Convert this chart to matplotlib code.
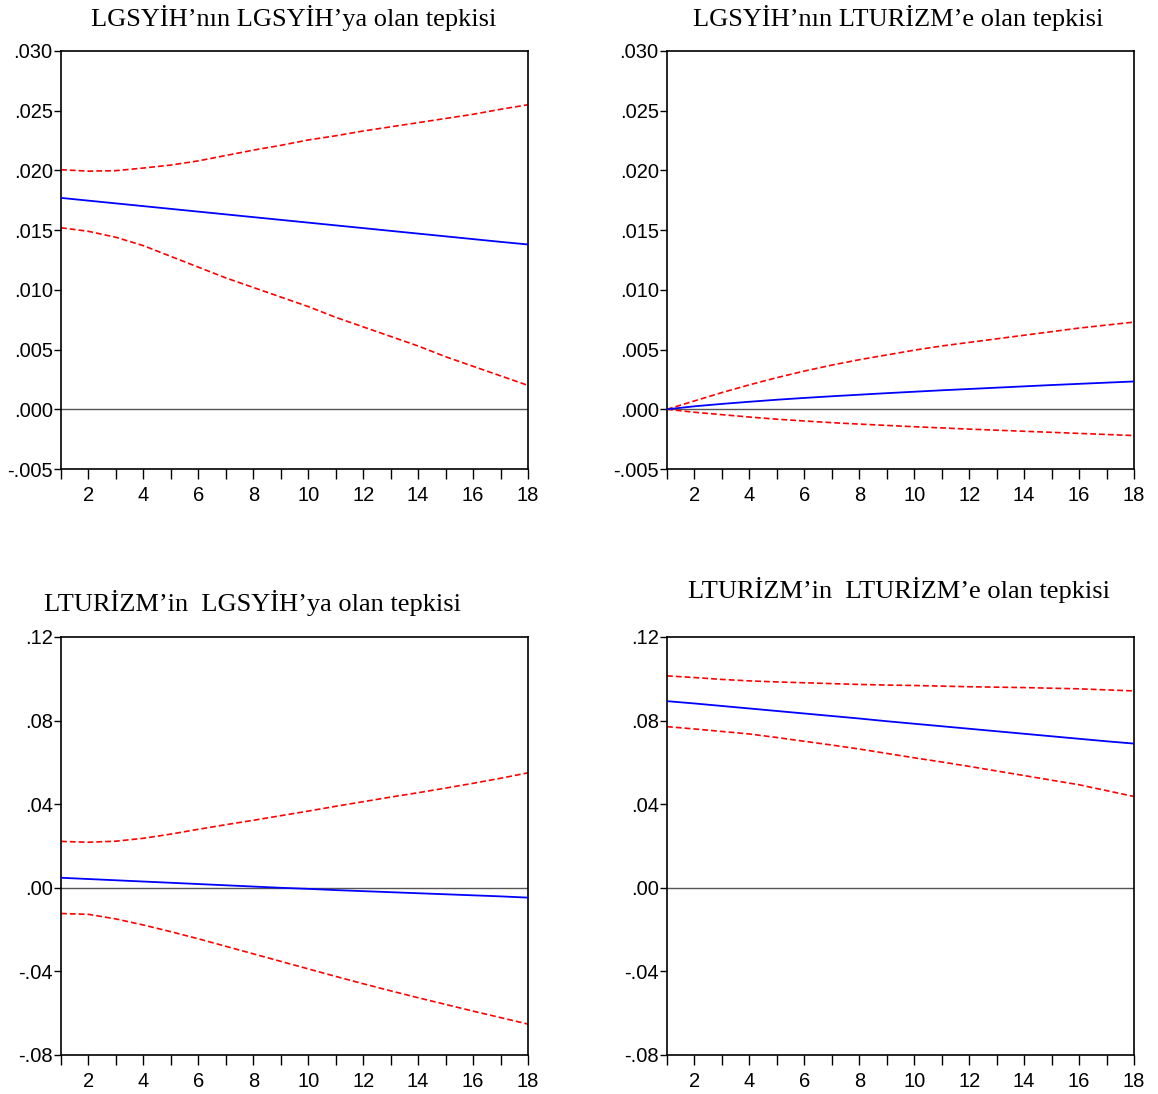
import matplotlib
matplotlib.use("Agg")
import matplotlib.pyplot as plt
from matplotlib import font_manager

periods = list(range(1, 19))

# LGSYIH -> LGSYIH
p1_resp = [0.0177, 0.01747, 0.01724, 0.01701, 0.01678, 0.01655, 0.01632, 0.01609, 0.01586,
           0.01563, 0.0154, 0.01517, 0.01494, 0.01471, 0.01448, 0.01425, 0.01402, 0.0138]
p1_upper = [0.02006, 0.01994, 0.01998, 0.0202, 0.02045, 0.0208, 0.02125, 0.0217, 0.0221,
            0.02255, 0.0229, 0.0233, 0.02365, 0.0240, 0.02435, 0.0247, 0.02512, 0.0255]
p1_lower = [0.0152, 0.0149, 0.0144, 0.0137, 0.0128, 0.0119, 0.0110, 0.0102, 0.0094,
            0.0086, 0.0077, 0.0069, 0.0061, 0.0053, 0.0044, 0.0036, 0.0028, 0.0020]

# LGSYIH -> LTURIZM
p2_resp = [0.0, 0.00025, 0.00045, 0.00063, 0.0008, 0.00095, 0.00109, 0.00122, 0.00135,
           0.00147, 0.00159, 0.0017, 0.00181, 0.00192, 0.00203, 0.00213, 0.00223, 0.00233]
p2_upper = [0.0, 0.0007, 0.0014, 0.00205, 0.00265, 0.0032, 0.0037, 0.00415, 0.00455,
            0.00495, 0.0053, 0.0056, 0.0059, 0.0062, 0.0065, 0.0068, 0.00705, 0.0073]
p2_lower = [0.0, -0.00025, -0.00045, -0.00065, -0.00083, -0.00098, -0.00112, -0.00124, -0.00135,
            -0.00146, -0.00156, -0.00166, -0.00175, -0.00184, -0.00193, -0.00202, -0.00211, -0.0022]

# LTURIZM -> LGSYIH
p3_resp = [0.0048, 0.0042, 0.0036, 0.0030, 0.0024, 0.0018, 0.0012, 0.0006, 0.0,
           -0.0005, -0.0011, -0.0016, -0.0021, -0.0026, -0.0031, -0.0036, -0.0041, -0.0047]
p3_upper = [0.0222, 0.0218, 0.0223, 0.0237, 0.0257, 0.0280, 0.0302, 0.0323, 0.0345,
            0.0367, 0.0390, 0.0412, 0.0434, 0.0455, 0.0477, 0.0500, 0.0524, 0.0550]
p3_lower = [-0.0123, -0.0127, -0.0149, -0.0178, -0.0210, -0.0244, -0.0280, -0.0316, -0.0352,
            -0.0388, -0.0424, -0.0459, -0.0493, -0.0526, -0.0558, -0.0590, -0.0621, -0.0652]

# LTURIZM -> LTURIZM
p4_resp = [0.0893, 0.0882, 0.0870, 0.0858, 0.0846, 0.0834, 0.0822, 0.0810, 0.0797,
           0.0785, 0.0773, 0.0761, 0.0749, 0.0737, 0.0725, 0.0713, 0.0701, 0.0690]
p4_upper = [0.1014, 0.1006, 0.0997, 0.0990, 0.0985, 0.0981, 0.0977, 0.0973, 0.0970,
            0.0968, 0.0965, 0.0962, 0.0960, 0.0958, 0.0955, 0.0952, 0.0947, 0.0942]
p4_lower = [0.0771, 0.0760, 0.0748, 0.0736, 0.0719, 0.0701, 0.0683, 0.0664, 0.0643,
            0.0622, 0.0602, 0.0581, 0.0559, 0.0537, 0.0515, 0.0493, 0.0465, 0.0437]

titles = ["LGSYİH’nın LGSYİH’ya olan tepkisi",
          "LGSYİH’nın LTURİZM’e olan tepkisi",
          "LTURİZM’in  LGSYİH’ya olan tepkisi",
          "LTURİZM’in  LTURİZM’e olan tepkisi"]

small_ticks = [-0.005, 0.0, 0.005, 0.010, 0.015, 0.020, 0.025, 0.030]
small_labels = ["-.005", ".000", ".005", ".010", ".015", ".020", ".025", ".030"]
big_ticks = [-0.08, -0.04, 0.0, 0.04, 0.08, 0.12]
big_labels = ["-.08", "-.04", ".00", ".04", ".08", ".12"]
x_labels = ["", "2", "", "4", "", "6", "", "8", "", "10", "", "12", "", "14", "", "16", "", "18"]

# narrow sans for tick labels if available
names = {f.name for f in font_manager.fontManager.ttflist}
tick_font = "Liberation Sans Narrow" if "Liberation Sans Narrow" in names else "Liberation Sans"
tick_size = 17 if tick_font == "Liberation Sans Narrow" else 14.5

W, H = 1158, 1094
fig = plt.figure(figsize=(W / 100, H / 100), dpi=100)

panels = [
    (61, 469, p1_resp, p1_upper, p1_lower, small_ticks, small_labels),
    (667, 469, p2_resp, p2_upper, p2_lower, small_ticks, small_labels),
    (61, 1055, p3_resp, p3_upper, p3_lower, big_ticks, big_labels),
    (667, 1055, p4_resp, p4_upper, p4_lower, big_ticks, big_labels),
]
title_pos = [(294, 18), (898, 18), (253, 603), (899, 590)]

for i, (left, bottom, resp, up, lo, yt, yl) in enumerate(panels):
    ax = fig.add_axes([left / W, 1 - bottom / H, 467 / W, 418 / H])
    ax.axhline(0, color="#555555", lw=1.0, zorder=1)
    ax.plot(periods, up, color="#ff0000", lw=1.2, dashes=(3.5, 1.8), zorder=2)
    ax.plot(periods, lo, color="#ff0000", lw=1.2, dashes=(3.5, 1.8), zorder=2)
    ax.plot(periods, resp, color="#0000ff", lw=1.3, zorder=3)
    ax.set_xlim(1, 18)
    ax.set_ylim(yt[0], yt[-1])
    ax.set_yticks(yt)
    ax.set_yticklabels(yl, fontfamily=tick_font, fontsize=tick_size)
    ax.set_xticks(periods)
    ax.set_xticklabels(x_labels, fontfamily=tick_font, fontsize=tick_size)
    ax.tick_params(axis="y", direction="out", length=5, width=1, pad=1)
    ax.tick_params(axis="x", direction="out", length=7, width=1, pad=5)
    for s in ax.spines.values():
        s.set_linewidth(1.2)
    tx, ty = title_pos[i]
    fig.text(tx / W, 1 - ty / H, titles[i], ha="center", va="center",
             fontfamily="Liberation Serif", fontsize=19)

fig.savefig("out.png", dpi=100)
